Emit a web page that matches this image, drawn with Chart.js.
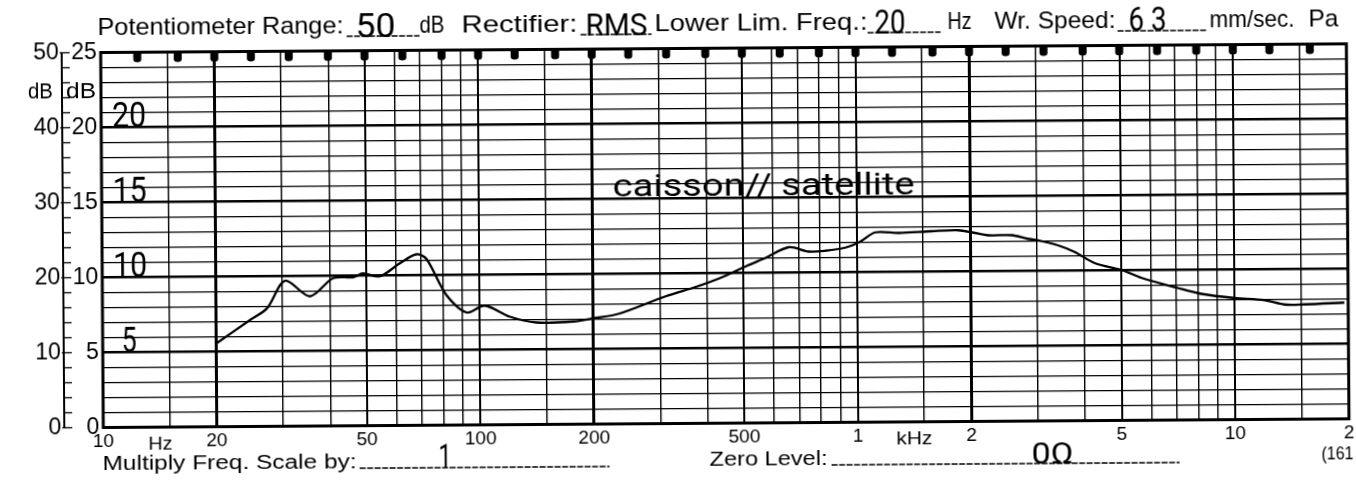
<!DOCTYPE html>
<html><head><meta charset="utf-8">
<script src="https://cdn.jsdelivr.net/npm/chart.js@4.4.1/dist/chart.umd.min.js"></script>
<style>
html,body{margin:0;padding:0;background:#fff;overflow:hidden;width:1356px;height:480px;}
#wrap{position:absolute;left:0;top:0;width:1356px;height:480px;transform:rotate(-0.4deg);transform-origin:678px 240px;}
canvas{display:block;}
</style></head><body>
<div id="wrap"><canvas id="c" width="1356" height="480"></canvas></div>
<script>
// ---- data (left scale, dB) ----
const freqHz = [20, 24.6, 27.3, 30.5, 35.5, 40.9, 46.2, 49.1, 54.4, 61.4, 68, 72.3, 81.7, 92.3, 103, 120, 141, 177, 200, 234, 312, 374, 431, 513, 573, 660, 746, 826, 933, 1023, 1120, 1291, 1581, 1862, 2028, 2234, 2574, 2840, 3020, 3414, 3778, 4266, 5063, 5662, 7079, 8166, 10040, 12000, 13550, 15320, 19540];
const levelDb = [11.1, 14.2, 15.75, 19.4, 17.3, 19.7, 19.8, 20.3, 19.9, 21.6, 22.8, 22.2, 17.3, 15.0, 15.9, 14.4, 13.6, 13.7, 14.1, 14.7, 17.0, 18.2, 19.3, 21.0, 22.0, 23.4, 22.8, 22.9, 23.3, 24.1, 25.3, 25.2, 25.4, 25.5, 25.2, 24.8, 24.8, 24.3, 24.1, 23.4, 22.5, 21.0, 20.0, 19.0, 17.6, 16.8, 16.2, 15.9, 15.3, 15.3, 15.5];
const gridFreqs = [10,15,20,30,40,50,60,70,80,90,100,150,200,300,400,500,600,700,800,900,1000,1500,2000,3000,4000,5000,6000,7000,8000,9000,10000,15000,20000];
const freqTickLabels = {10:'10',20:'20',50:'50',100:'100',200:'200',500:'500',1000:'1',2000:'2',5000:'5',10000:'10',20000:'2'};
const heavyFreqs = [20,200,2000];
const mediumFreqs = [50,100,500,1000,5000,10000];
const thirdOctaveMarks = [12.5,16,20,25,31.5,40,50,63,80,100,125,160,200,250,315,400,500,630,800,1000,1250,1600,2000,2500,3150,4000,5000,6300,8000,10000,12500,16000];
const leftScaleMax = 50;
const rightScaleMax = 25;
const handScaleValues = [20,15,10,5];
const curveLabel = 'caisson// satellite';

function rangeStep(a,b,s){const r=[];for(let v=a;v<=b+1e-9;v+=s)r.push(v);return r;}

function fitText(ctx, s, x, y, font, w){
  ctx.save(); ctx.font = font; ctx.textBaseline='alphabetic'; ctx.textAlign='left'; ctx.fillStyle='#000';
  ctx.translate(x,y);
  if (w){ const m = ctx.measureText(s).width; ctx.scale(w/m,1); }
  ctx.fillText(s,0,0); ctx.restore();
}
function uline(ctx,x1,x2,y){ctx.save();ctx.strokeStyle='#000';ctx.lineWidth=1.3;ctx.setLineDash([6,1.5]);ctx.beginPath();ctx.moveTo(x1,y);ctx.lineTo(x2,y);ctx.stroke();ctx.restore();}

const PRINT = '"Liberation Sans", Arial, sans-serif';
const HAND = 'Roboto, "DejaVu Sans", sans-serif';

const paperPlugin = {
  id:'paper',
  afterDraw(chart){
    const ctx = chart.ctx, a = chart.chartArea, xs = chart.scales.x, yl = chart.scales.yL, yr = chart.scales.yR;
    ctx.save();
    // frame
    ctx.strokeStyle='#000'; ctx.lineWidth=3;
    ctx.strokeRect(a.left, a.top, a.right-a.left, a.bottom-a.top);
    // third-octave marks along the top
    ctx.fillStyle='#000';
    thirdOctaveMarks.forEach(f=>{
      const x = xs.getPixelForValue(f);
      ctx.beginPath();
      ctx.moveTo(x-4,a.top); ctx.lineTo(x+4,a.top); ctx.lineTo(x+4,a.top+7);
      ctx.quadraticCurveTo(x+4,a.top+10,x,a.top+10); ctx.quadraticCurveTo(x-4,a.top+10,x-4,a.top+7);
      ctx.closePath(); ctx.fill();
    });
    // left bracket ruler
    ctx.strokeStyle='#000';
    ctx.lineWidth=2; ctx.beginPath();
    ctx.moveTo(63, yl.getPixelForValue(leftScaleMax)); ctx.lineTo(63, yl.getPixelForValue(0)); ctx.stroke();
    ctx.lineWidth=1.3;
    rangeStep(0,leftScaleMax,2).forEach(v=>{
      const y = yl.getPixelForValue(v);
      ctx.beginPath(); ctx.moveTo(v%10===0?61:63,y); ctx.lineTo(71,y); ctx.stroke();
    });
    // dB units
    const yDb = yl.getPixelForValue(44.9)+7;
    fitText(ctx,'dB',29,yDb,'22px '+PRINT,25);
    fitText(ctx,'dB',67,yDb,'22px '+PRINT,30);
    // header printed text
    const hb = 31;
    const HF = '24px '+PRINT;
    fitText(ctx,'Potentiometer Range:',99,hb,HF,246);
    fitText(ctx,'dB',421,hb,HF,25);
    fitText(ctx,'Rectifier:',463,hb,HF,116);
    fitText(ctx,'Lower Lim. Freq.:',656,hb,HF,213);
    fitText(ctx,'Hz',949,hb,HF,24);
    fitText(ctx,'Wr. Speed:',996,hb,HF,121);
    fitText(ctx,'mm/sec.',1211,hb,HF,85);
    fitText(ctx,'Pa',1310,hb,HF,30);
    uline(ctx,348,421,hb+3); uline(ctx,582,653,hb+3); uline(ctx,869,942,hb+3); uline(ctx,1119,1209,hb+3);
    // header handwriting
    const HW = '400 34px '+HAND;
    fitText(ctx,'50',357,hb+4,HW,40);
    fitText(ctx,'RMS',587,hb+4,'400 32px '+HAND,62);
    fitText(ctx,'20',876,hb+4,HW,31);
    fitText(ctx,'6 3',1130,hb+3,HW,38);
    // handwritten right-scale numbers on grid
    handScaleValues.forEach(v=>{
      const y = yr.getPixelForValue(v);
      const s = String(v);
      fitText(ctx,s, s.length>1?113:121, y-1, '400 35px '+HAND, s.length>1?34:15);
    });
    // curve annotation
    fitText(ctx,curveLabel,613,yl.getPixelForValue(30)-3,'400 32px '+HAND,302);
    // unit words on frequency axis
    const lb = 446;
    fitText(ctx,'Hz',147,lb,'19px '+PRINT,24);
    fitText(ctx,'kHz',895,lb,'19px '+PRINT,36);
    // bottom line texts
    const bb = 466;
    fitText(ctx,'Multiply Freq. Scale by:',101,bb,'20px '+PRINT,254);
    uline(ctx,358,608,bb);
    fitText(ctx,'1',437,bb,'400 34px '+HAND,13);
    fitText(ctx,'Zero Level:',708,bb,'20px '+PRINT,118);
    uline(ctx,830,1178,bb);
    fitText(ctx,'0Ω',1030,bb,'400 30px '+HAND,42);
    fitText(ctx,'(161',1320,bb-2,'19px '+PRINT,32);
    ctx.restore();
  }
};

new Chart(document.getElementById('c'), {
  type:'line',
  data:{ datasets:[{
    xAxisID:'x', yAxisID:'yL',
    data: freqHz.map((f,i)=>({x:f,y:levelDb[i]})),
    borderColor:'#000', borderWidth:2.3, pointRadius:0, tension:0.3, fill:false
  }]},
  options:{
    responsive:false, animation:false, devicePixelRatio:1,
    layout:{padding:{top:48.5,right:6,bottom:0,left:0}},
    plugins:{legend:{display:false},tooltip:{enabled:false}},
    scales:{
      x:{type:'logarithmic',min:10,max:20000,position:'bottom',
        afterBuildTicks:s=>{s.ticks=gridFreqs.map(v=>({value:v}));},
        afterFit:s=>{s.height=56.5;},
        ticks:{autoSkip:false,maxRotation:0,minRotation:0,padding:3,color:'#000',
          font:{family:'"Liberation Sans", Arial, sans-serif',size:19},
          callback:v=>freqTickLabels[v]||''},
        grid:{color:'#000',drawTicks:false,
          lineWidth:c=>{const v=c.tick?c.tick.value:0;return heavyFreqs.includes(v)?3:(mediumFreqs.includes(v)?2:1.4);}},
        border:{display:false}
      },
      yL:{type:'linear',position:'left',weight:1,min:0,max:leftScaleMax,
        afterBuildTicks:s=>{s.ticks=rangeStep(0,leftScaleMax,2).map(v=>({value:v}));},
        afterFit:s=>{s.width=63;},
        ticks:{autoSkip:false,padding:3,color:'#000',font:{family:'"Liberation Sans", Arial, sans-serif',size:23},
          callback:v=>(v%10===0?String(v):'')},
        grid:{color:'#000',drawTicks:false,lineWidth:c=>{const v=c.tick?c.tick.value:1;return v%10===0?2.6:1.3;}},
        border:{display:false}
      },
      yR:{type:'linear',position:'left',weight:0,min:0,max:rightScaleMax,
        afterBuildTicks:s=>{s.ticks=rangeStep(0,rightScaleMax,5).map(v=>({value:v}));},
        afterFit:s=>{s.width=39;},
        ticks:{autoSkip:false,padding:4,color:'#000',font:{family:'"Liberation Sans", Arial, sans-serif',size:23},
          callback:v=>String(v)},
        grid:{display:false,drawTicks:false},
        border:{display:false}
      }
    }
  },
  plugins:[paperPlugin]
});
</script>
</body></html>
